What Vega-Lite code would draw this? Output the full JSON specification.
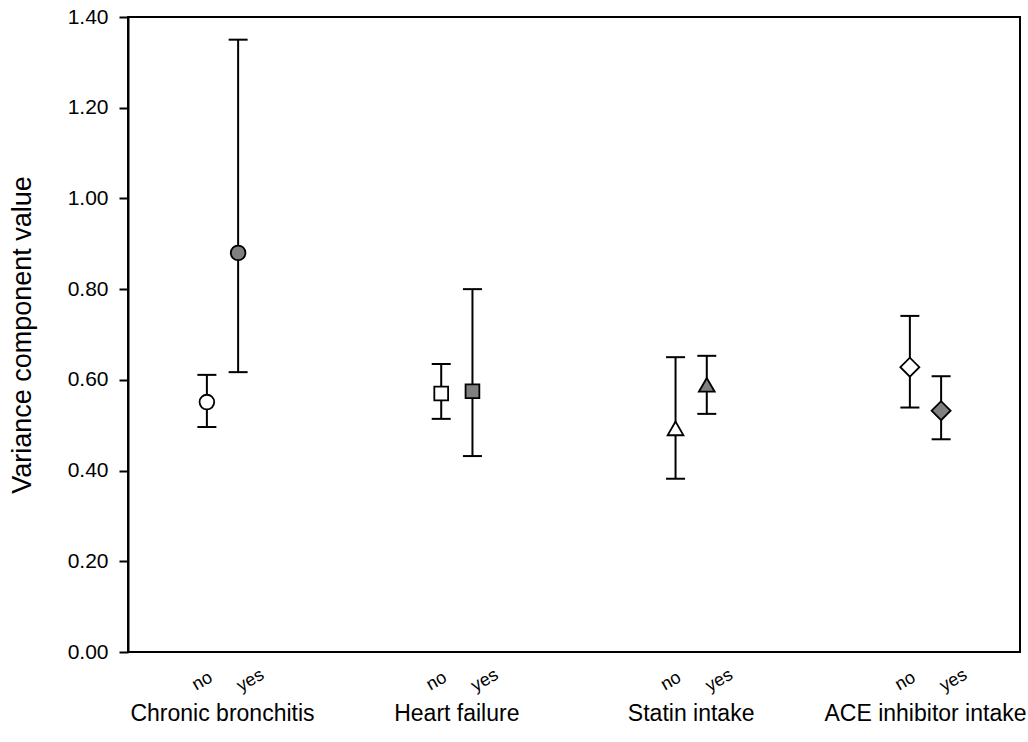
{
  "$schema": "https://vega.github.io/schema/vega-lite/v6.json",
  "width": 892,
  "height": 635,
  "autosize": {"type": "none"},
  "padding": {"left": 128, "top": 17, "right": 8, "bottom": 90},
  "background": "white",
  "config": {
    "font": "Liberation Sans",
    "view": {"stroke": "black", "strokeWidth": 2}
  },
  "data": {
    "values": [
      {"group": "Chronic bronchitis", "status": "no", "value": 0.551, "lower": 0.496, "upper": 0.611},
      {"group": "Chronic bronchitis", "status": "yes", "value": 0.880, "lower": 0.617, "upper": 1.350},
      {"group": "Heart failure", "status": "no", "value": 0.570, "lower": 0.514, "upper": 0.635},
      {"group": "Heart failure", "status": "yes", "value": 0.575, "lower": 0.432, "upper": 0.800},
      {"group": "Statin intake", "status": "no", "value": 0.493, "lower": 0.382, "upper": 0.650},
      {"group": "Statin intake", "status": "yes", "value": 0.589, "lower": 0.525, "upper": 0.653},
      {"group": "ACE inhibitor intake", "status": "no", "value": 0.628, "lower": 0.539, "upper": 0.741},
      {"group": "ACE inhibitor intake", "status": "yes", "value": 0.532, "lower": 0.469, "upper": 0.608}
    ]
  },
  "encoding": {
    "x": {
      "field": "group",
      "type": "nominal",
      "sort": ["Chronic bronchitis", "Heart failure", "Statin intake", "ACE inhibitor intake"],
      "scale": {"paddingInner": 0.6, "paddingOuter": 0.2033},
      "axis": {
        "title": null,
        "labelAngle": 0,
        "labelFontSize": 23,
        "labelColor": "black",
        "labelPadding": 50,
        "labelLimit": 0,
        "ticks": false,
        "domain": false,
        "grid": false
      }
    },
    "xOffset": {
      "field": "status",
      "type": "nominal",
      "sort": ["no", "yes"],
      "scale": {"paddingInner": 0, "paddingOuter": 0.5}
    }
  },
  "layer": [
    {
      "mark": {"type": "rule", "stroke": "black", "strokeWidth": 2},
      "encoding": {
        "y": {
          "field": "lower",
          "type": "quantitative",
          "scale": {"domain": [0, 1.4], "nice": false, "zero": false},
          "axis": {
            "title": "Variance component value",
            "titleFontSize": 27,
            "titleFontWeight": "normal",
            "titleColor": "black",
            "titlePadding": 31,
            "values": [0, 0.2, 0.4, 0.6, 0.8, 1.0, 1.2, 1.4],
            "format": ".2f",
            "labelFontSize": 21,
            "labelColor": "black",
            "labelPadding": 11,
            "tickSize": 9,
            "tickWidth": 2,
            "tickColor": "black",
            "domainColor": "black",
            "domainWidth": 2,
            "grid": false
          }
        },
        "y2": {"field": "upper"}
      }
    },
    {
      "mark": {"type": "tick", "size": 19, "thickness": 2, "color": "black", "opacity": 1},
      "encoding": {"y": {"field": "upper", "type": "quantitative"}}
    },
    {
      "mark": {"type": "tick", "size": 19, "thickness": 2, "color": "black", "opacity": 1},
      "encoding": {"y": {"field": "lower", "type": "quantitative"}}
    },
    {
      "mark": {"type": "point", "filled": true, "stroke": "black", "strokeWidth": 1.8, "opacity": 1},
      "encoding": {
        "y": {"field": "value", "type": "quantitative"},
        "shape": {
          "field": "group",
          "type": "nominal",
          "scale": {
            "domain": ["Chronic bronchitis", "Heart failure", "Statin intake", "ACE inhibitor intake"],
            "range": ["circle", "square", "triangle-up", "diamond"]
          },
          "legend": null
        },
        "size": {
          "field": "group",
          "type": "nominal",
          "scale": {
            "type": "ordinal",
            "domain": ["Chronic bronchitis", "Heart failure", "Statin intake", "ACE inhibitor intake"],
            "range": [215, 190, 250, 360]
          },
          "legend": null
        },
        "fill": {
          "field": "status",
          "type": "nominal",
          "scale": {"domain": ["no", "yes"], "range": ["white", "#808080"]},
          "legend": null
        }
      }
    },
    {
      "transform": [{"filter": "datum.status === 'no'"}],
      "mark": {"type": "text", "angle": -30, "fontSize": 18, "color": "black", "align": "center", "baseline": "middle", "dx": -4, "dy": -2},
      "encoding": {
        "y": {"datum": -0.064, "type": "quantitative"},
        "text": {"field": "status"}
      }
    },
    {
      "transform": [{"filter": "datum.status === 'yes'"}],
      "mark": {"type": "text", "angle": -30, "fontSize": 18, "color": "black", "align": "center", "baseline": "middle", "dx": 11, "dy": 6},
      "encoding": {
        "y": {"datum": -0.064, "type": "quantitative"},
        "text": {"field": "status"}
      }
    }
  ]
}
